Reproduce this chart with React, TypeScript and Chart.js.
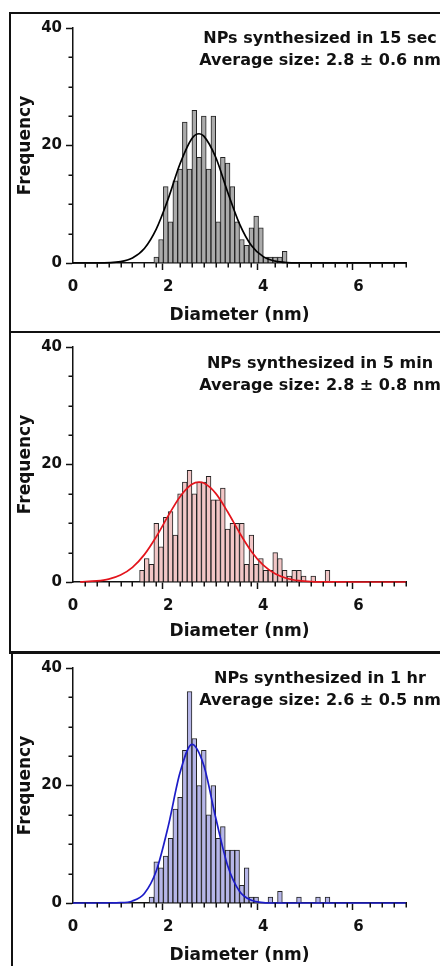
import React, { useEffect, useRef } from 'react';
import { Chart, registerables } from 'chart.js';

Chart.register(...registerables);

const FONT = '"DejaVu Sans", "Liberation Sans", sans-serif';
const INK = '#111111';

// Axes
const X_MIN = 0;
const X_MAX = 7;
const X_STEP = 0.25;
const X_MAJOR = [0, 2, 4, 6];
const Y_MIN = 0;
const Y_MAX = 40;
const Y_STEP = 5;
const Y_MAJOR = [0, 20, 40];
const X_TITLE = 'Diameter (nm)';
const Y_TITLE = 'Frequency';

// Panel 1: 15 sec
const NOTE_15S = ['NPs synthesized in 15 sec', 'Average size: 2.8 ± 0.6 nm'];
const BINS_15S = [1.75, 1.85, 1.95, 2.05, 2.15, 2.25, 2.35, 2.45, 2.55, 2.65, 2.75, 2.85, 2.95, 3.05, 3.15, 3.25, 3.35, 3.45, 3.55, 3.65, 3.75, 3.85, 3.95, 4.05, 4.15, 4.25, 4.35, 4.45];
const COUNTS_15S = [1, 4, 13, 7, 14, 16, 24, 16, 26, 18, 25, 16, 25, 7, 18, 17, 13, 7, 4, 3, 6, 8, 6, 1, 1, 1, 1, 2];
const FIT_X_15S = [0, 0.5, 1.0, 1.25, 1.5, 1.75, 2.0, 2.25, 2.5, 2.65, 2.75, 3.0, 3.25, 3.5, 3.75, 4.0, 4.25, 4.5, 5.0, 6.0, 7.0];
const FIT_Y_15S = [0, 0, 0.24, 0.86, 2.47, 5.77, 10.9, 16.9, 21.2, 22, 21.6, 18.0, 12.1, 6.67, 2.98, 1.08, 0.32, 0.08, 0, 0, 0];

// Panel 2: 5 min
const NOTE_5M = ['NPs synthesized in 5 min', 'Average size: 2.8 ± 0.8 nm'];
const BINS_5M = [1.45, 1.55, 1.65, 1.75, 1.85, 1.95, 2.05, 2.15, 2.25, 2.35, 2.45, 2.55, 2.65, 2.75, 2.85, 2.95, 3.05, 3.15, 3.25, 3.35, 3.45, 3.55, 3.65, 3.75, 3.85, 3.95, 4.05, 4.15, 4.25, 4.35, 4.45, 4.55, 4.65, 4.75, 4.85, 4.95, 5.05, 5.15, 5.25, 5.35];
const COUNTS_5M = [2, 4, 3, 10, 6, 11, 12, 8, 15, 17, 19, 15, 17, 17, 18, 14, 14, 16, 9, 10, 10, 10, 3, 8, 3, 4, 2, 2, 5, 4, 2, 1, 2, 2, 1, 0, 1, 0, 0, 2];
const FIT_X_5M = [0.15, 0.5, 0.75, 1.0, 1.25, 1.5, 1.75, 2.0, 2.25, 2.5, 2.65, 2.75, 3.0, 3.25, 3.5, 3.75, 4.0, 4.25, 4.5, 4.75, 5.0, 5.5, 6.0, 7.0];
const FIT_Y_5M = [0.03, 0.19, 0.5, 1.19, 2.5, 4.66, 7.7, 11.25, 14.53, 16.63, 17, 16.83, 15.08, 11.96, 8.39, 5.21, 2.86, 1.39, 0.6, 0.23, 0.08, 0.01, 0, 0];

// Panel 3: 1 hr
const NOTE_1H = ['NPs synthesized in 1 hr', 'Average size: 2.6 ± 0.5 nm'];
const BINS_1H = [1.65, 1.75, 1.85, 1.95, 2.05, 2.15, 2.25, 2.35, 2.45, 2.55, 2.65, 2.75, 2.85, 2.95, 3.05, 3.15, 3.25, 3.35, 3.45, 3.55, 3.65, 3.75, 3.85, 3.95, 4.05, 4.15, 4.25, 4.35, 4.45, 4.55, 4.65, 4.75, 4.85, 4.95, 5.05, 5.15, 5.25, 5.35];
const COUNTS_1H = [1, 7, 6, 8, 11, 16, 18, 26, 36, 28, 20, 26, 15, 20, 11, 13, 9, 9, 9, 3, 6, 1, 1, 0, 0, 1, 0, 2, 0, 0, 0, 1, 0, 0, 0, 1, 0, 1];
const FIT_X_1H = [0, 0.5, 1.0, 1.25, 1.5, 1.75, 2.0, 2.25, 2.5, 2.75, 3.0, 3.25, 3.5, 3.75, 4.0, 4.25, 5.0, 6.0, 7.0];
const FIT_Y_1H = [0, 0, 0.05, 0.35, 1.62, 5.44, 13.0, 22.2, 27.0, 23.4, 14.5, 6.4, 2.0, 0.45, 0.07, 0, 0, 0, 0];

const minorTicks = {
  id: 'minorTicks',
  afterDraw(chart: any) {
    const { ctx } = chart;
    const xs = chart.scales.x;
    const ys = chart.scales.y;
    ctx.save();
    ctx.strokeStyle = INK;
    ctx.lineWidth = 1.5;
    ctx.beginPath();
    xs.ticks.forEach((t: any) => {
      if (X_MAJOR.includes(t.value)) return;
      const px = Math.round(xs.getPixelForValue(t.value)) + 0.25;
      ctx.moveTo(px, ys.bottom);
      ctx.lineTo(px, ys.bottom + 4.5);
    });
    ys.ticks.forEach((t: any) => {
      if (Y_MAJOR.includes(t.value)) return;
      const py = Math.round(ys.getPixelForValue(t.value)) + 0.25;
      ctx.moveTo(xs.left - 4.5, py);
      ctx.lineTo(xs.left, py);
    });
    ctx.stroke();
    ctx.restore();
  },
};

type PanelProps = {
  note: string[];
  bins: number[];
  counts: number[];
  fitX: number[];
  fitY: number[];
  barColor: string;
  lineColor: string;
  box: { left: number; top: number; width: number; height: number };
  area: { left: number; right: number; top: number; bottom: number };
  noteTop: number;
  yTitlePad: number;
  xTitlePad: number;
};

function Panel(p: PanelProps) {
  const ref = useRef<HTMLCanvasElement | null>(null);
  useEffect(() => {
    const canvas = ref.current;
    if (!canvas) return;
    const yAxisWidth = p.area.left - p.box.left;
    const xAxisHeight = p.box.top + p.box.height - p.area.bottom;
    const tickFont = { family: FONT, size: 15, weight: 'bold' as const };
    const titleFont = { family: FONT, size: 17, weight: 'bold' as const };
    const chart = new Chart(canvas, {
      type: 'bar',
      data: {
        datasets: [
          {
            type: 'line',
            data: p.fitX.map((x, i) => ({ x, y: p.fitY[i] })),
            borderColor: p.lineColor,
            borderWidth: 1.7,
            pointRadius: 0,
            cubicInterpolationMode: 'monotone',
            clip: 4,
            order: 0,
          } as any,
          {
            type: 'bar',
            data: p.bins.map((x, i) => ({ x, y: p.counts[i] ? p.counts[i] : null })),
            backgroundColor: p.barColor,
            borderColor: '#222222',
            borderWidth: 1,
            barPercentage: 1,
            categoryPercentage: 1,
            order: 1,
          } as any,
        ],
      },
      options: {
        animation: false,
        responsive: false,
        maintainAspectRatio: false,
        layout: {
          padding: {
            top: p.area.top - p.box.top,
            right: p.box.left + p.box.width - p.area.right,
            left: 0,
            bottom: 0,
          },
        },
        plugins: { legend: { display: false }, tooltip: { enabled: false } },
        scales: {
          x: {
            type: 'linear',
            min: X_MIN,
            max: X_MAX,
            offset: false,
            grid: {
              drawOnChartArea: false,
              drawTicks: true,
              tickLength: 7,
              tickWidth: 1.5,
              tickColor: (c: any) => (X_MAJOR.includes(c.tick?.value) ? INK : 'rgba(0,0,0,0)'),
            },
            border: { color: INK, width: 1.5 },
            ticks: {
              stepSize: X_STEP,
              autoSkip: false,
              maxRotation: 0,
              padding: 8,
              color: INK,
              font: tickFont,
              callback: (v: any) => (X_MAJOR.includes(Number(v)) ? String(v) : ''),
            },
            title: {
              display: true,
              text: X_TITLE,
              color: INK,
              font: titleFont,
              padding: { top: 0, bottom: p.xTitlePad },
            },
            afterFit: (s: any) => {
              s.height = xAxisHeight;
            },
          } as any,
          y: {
            type: 'linear',
            min: Y_MIN,
            max: Y_MAX,
            grid: {
              drawOnChartArea: false,
              drawTicks: true,
              tickLength: 7,
              tickWidth: 1.5,
              tickColor: (c: any) => (Y_MAJOR.includes(c.tick?.value) ? INK : 'rgba(0,0,0,0)'),
            },
            border: { color: INK, width: 1.5 },
            ticks: {
              stepSize: Y_STEP,
              autoSkip: false,
              padding: 4,
              color: INK,
              font: tickFont,
              callback: (v: any) => (Y_MAJOR.includes(Number(v)) ? String(v) : ''),
            },
            title: {
              display: true,
              text: Y_TITLE,
              color: INK,
              font: titleFont,
              padding: { top: p.yTitlePad, bottom: 0 },
            },
            afterFit: (s: any) => {
              s.width = yAxisWidth;
            },
          } as any,
        },
      },
      plugins: [minorTicks],
    });
    return () => chart.destroy();
  }, []);

  return (
    <>
      <canvas
        ref={ref}
        width={p.box.width}
        height={p.box.height}
        style={{
          position: 'absolute',
          left: p.box.left,
          top: p.box.top,
          width: p.box.width,
          height: p.box.height,
        }}
      />
      <div
        style={{
          position: 'absolute',
          left: 190,
          width: 260,
          top: p.noteTop,
          textAlign: 'center',
          fontFamily: FONT,
          fontWeight: 'bold',
          fontSize: 16,
          lineHeight: '22px',
          color: INK,
          whiteSpace: 'nowrap',
        }}
      >
        {p.note.map((t) => (
          <div key={t}>{t}</div>
        ))}
      </div>
    </>
  );
}

const line = (left: number, top: number, width: number, height: number) => (
  <div style={{ position: 'absolute', left, top, width, height, background: INK }} />
);

export default function App() {
  return (
    <div
      style={{
        position: 'absolute',
        left: 0,
        top: 0,
        width: 440,
        height: 966,
        overflow: 'hidden',
        background: '#ffffff',
      }}
    >
      <Panel
        note={NOTE_15S}
        bins={BINS_15S}
        counts={COUNTS_15S}
        fitX={FIT_X_15S}
        fitY={FIT_Y_15S}
        barColor="#ababab"
        lineColor="#000000"
        box={{ left: 12, top: 15, width: 428, height: 315 }}
        area={{ left: 73, right: 406, top: 28, bottom: 263 }}
        noteTop={27}
        yTitlePad={3.5}
        xTitlePad={3.8}
      />
      <Panel
        note={NOTE_5M}
        bins={BINS_5M}
        counts={COUNTS_5M}
        fitX={FIT_X_5M}
        fitY={FIT_Y_5M}
        barColor="#f2c6c6"
        lineColor="#e3141c"
        box={{ left: 12, top: 334, width: 428, height: 317 }}
        area={{ left: 73, right: 406, top: 345, bottom: 582 }}
        noteTop={352}
        yTitlePad={3.5}
        xTitlePad={8.8}
      />
      <Panel
        note={NOTE_1H}
        bins={BINS_1H}
        counts={COUNTS_1H}
        fitX={FIT_X_1H}
        fitY={FIT_Y_1H}
        barColor="#b6b6e8"
        lineColor="#1c1cc8"
        box={{ left: 13, top: 654, width: 427, height: 312 }}
        area={{ left: 73, right: 406, top: 668, bottom: 903 }}
        noteTop={667}
        yTitlePad={2.5}
        xTitlePad={0}
      />
      {line(9, 12, 431, 2)}
      {line(9, 12, 2, 641)}
      {line(9, 331, 431, 2)}
      {line(9, 651, 431, 3)}
      {line(11, 651, 2, 315)}
    </div>
  );
}
